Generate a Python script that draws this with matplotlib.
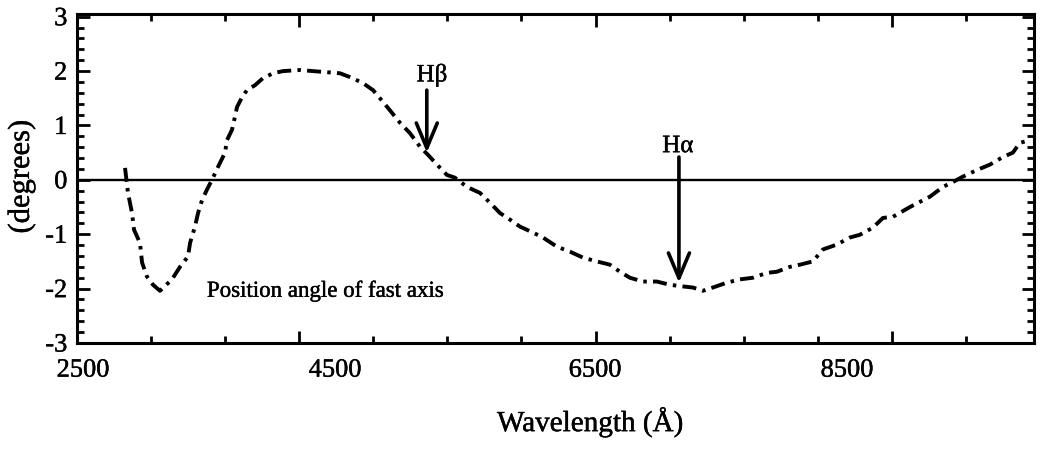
import matplotlib
matplotlib.use("Agg")
import matplotlib.pyplot as plt
import matplotlib.patheffects as pe
from matplotlib.ticker import MultipleLocator

# Position angle of the fast axis versus wavelength
wavelength = [2824, 2844, 2871, 2885, 2925, 2939, 2972, 3013, 3060, 3141,
              3195, 3249, 3263, 3296, 3317, 3344, 3377, 3411, 3452, 3499,
              3512, 3546, 3566, 3580, 3614, 3647, 3701, 3755, 3823, 3890,
              4005, 4093, 4187, 4275, 4342, 4430, 4498, 4545, 4612, 4680,
              4747, 4815, 4869, 4930, 4997, 5051, 5132, 5220, 5287, 5355,
              5422, 5490, 5578, 5645, 5740, 5827, 5915, 6009, 6097, 6165,
              6232, 6320, 6414, 6502, 6590, 6657, 6725, 6792, 6887, 6975,
              7062, 7157, 7224, 7312, 7380, 7467, 7535, 7629, 7717, 7784,
              7872, 7940, 8007, 8122, 8257, 8345, 8412, 8480, 8574, 8662,
              8750, 8817, 8864, 8932]
angle = [0.22, -0.24, -0.61, -0.92, -1.16, -1.52, -1.78, -1.93, -2.04, -1.83,
         -1.60, -1.41, -1.16, -0.86, -0.61, -0.37, -0.18, 0.00, 0.24, 0.50,
         0.73, 0.92, 1.16, 1.34, 1.52, 1.65, 1.74, 1.87, 1.96, 2.00,
         2.02, 2.00, 1.98, 1.96, 1.89, 1.78, 1.65, 1.50, 1.28, 1.05,
         0.86, 0.61, 0.46, 0.28, 0.09, 0.04, -0.13, -0.24, -0.42, -0.61,
         -0.73, -0.86, -0.97, -1.06, -1.23, -1.32, -1.43, -1.50, -1.56, -1.69,
         -1.80, -1.87, -1.87, -1.93, -1.96, -1.98, -2.04, -1.98, -1.89, -1.83,
         -1.80, -1.71, -1.69, -1.60, -1.56, -1.50, -1.28, -1.19, -1.06, -1.01,
         -0.88, -0.70, -0.68, -0.50, -0.31, -0.13, -0.04, 0.06, 0.18, 0.28,
         0.42, 0.50, 0.68, 0.73]

# Balmer lines marked with arrows: (name, wavelength, arrow tail, arrow tip)
line_names = ["H\u03b2", "H\u03b1"]
line_wavelengths = [4861, 6563]
arrow_tails = [1.65, 0.42]
arrow_tips = [0.50, -1.89]

xtick_labels = ["2500", "4500", "6500", "8500"]

# layout constants
XTICK_LABEL_AT = [2540, 4241, 5996, 7697]
LABEL_OFFSETS = [(35, 0.28), (-7, 0.20)]
INK = [pe.withStroke(linewidth=0.3, foreground="black")]

plt.rcParams["font.family"] = ["Liberation Serif", "DejaVu Serif"]
plt.rcParams["axes.unicode_minus"] = False

fig = plt.figure(figsize=(10.41, 4.49), dpi=100)
ax = fig.add_axes([0.0740, 0.2361, 0.9193, 0.7327])

ax.plot(wavelength, angle, color="black", lw=2.8,
        linestyle=(0, (3.6, 1.6, 0.9, 1.6)))
ax.axhline(0, color="black", lw=1.7)

for name, wl, tail, tip, (dx, dy) in zip(line_names, line_wavelengths,
                                         arrow_tails, arrow_tips, LABEL_OFFSETS):
    ax.annotate("", xy=(wl, tip), xytext=(wl, tail),
                arrowprops=dict(arrowstyle="->, head_length=1.0, head_width=0.42",
                                lw=2.6, color="black", shrinkA=0, shrinkB=0,
                                mutation_scale=18))
    ax.text(wl + dx, tail + dy, name, ha="center", va="center", fontsize=18,
            path_effects=INK)

ax.text(3377, -2.15, "Position angle of fast axis", ha="left",
        va="baseline", fontsize=16.5, path_effects=INK)

ax.set_xlim(2500, 8960)
ax.set_ylim(-3.0, 3.05)

ax.xaxis.set_major_locator(MultipleLocator(2000))
ax.xaxis.set_minor_locator(MultipleLocator(500))
ax.yaxis.set_major_locator(MultipleLocator(1))
ax.yaxis.set_minor_locator(MultipleLocator(0.2))
ax.tick_params(which="both", direction="in", top=True, right=True,
               width=2.0, color="black")
ax.tick_params(which="major", length=9)
ax.tick_params(which="minor", length=5)
ax.tick_params(axis="x", labelbottom=False)
ax.tick_params(axis="y", labelsize=19, pad=7)
for sp in ax.spines.values():
    sp.set_linewidth(2.2)
for lbl in ax.get_yticklabels():
    lbl.set_path_effects(INK)

# tick numbers on the wavelength axis
sec = ax.secondary_xaxis("bottom")
sec.set_xticks(XTICK_LABEL_AT, labels=xtick_labels)
sec.tick_params(length=0, pad=12, labelsize=19)
sec.spines["bottom"].set_visible(False)
for lbl in sec.get_xticklabels():
    lbl.set_path_effects(INK)

ax.set_xlabel("Wavelength (\u00c5)", fontsize=21, path_effects=INK)
ax.xaxis.set_label_coords(0.536, -0.195)
ax.set_ylabel("(degrees)", fontsize=22, path_effects=INK)
ax.yaxis.set_label_coords(-0.043, 0.505)

fig.savefig("out.png", dpi=100)
